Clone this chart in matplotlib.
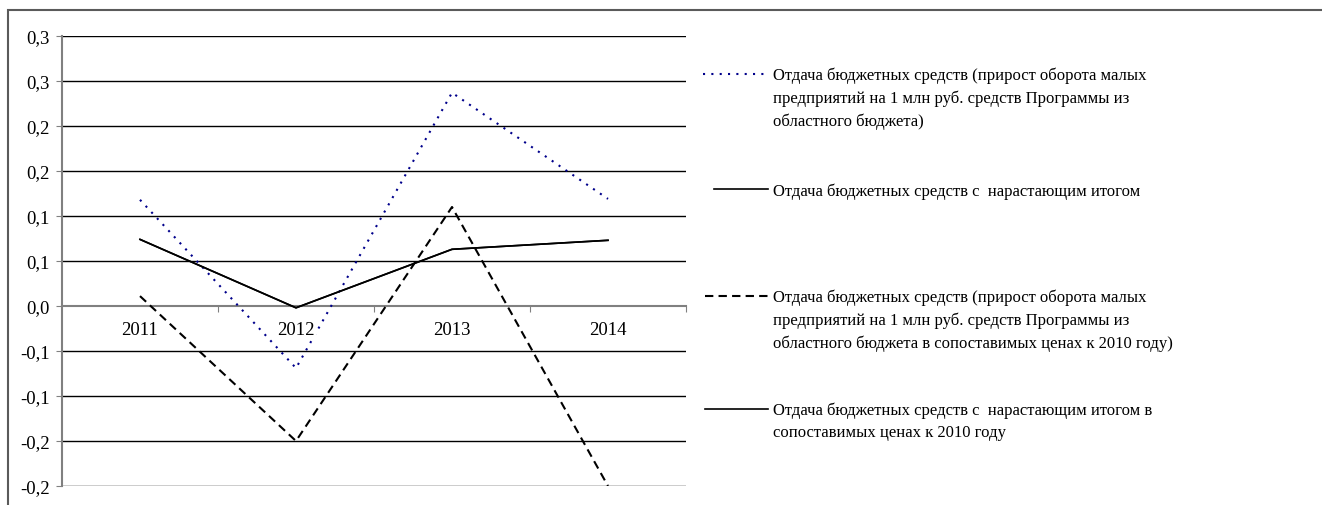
import matplotlib
matplotlib.use("Agg")
import matplotlib.pyplot as plt
from matplotlib.lines import Line2D
from matplotlib.patches import Rectangle

plt.rcParams['font.family'] = ['Liberation Serif', 'DejaVu Serif']

years = ["2011", "2012", "2013", "2014"]
s1_return = [0.118, -0.069, 0.237, 0.119]       # dotted blue
s2_cumulative = [0.074, -0.002, 0.063, 0.073]   # solid
s3_return_real = [0.011, -0.150, 0.110, -0.200] # dashed
s4_cumulative_real = [0.074, -0.002, 0.063, 0.073]  # solid (overlaps)

y_ticks = [0.30, 0.25, 0.20, 0.15, 0.10, 0.05, 0.00, -0.05, -0.10, -0.15, -0.20]
y_tick_labels = ["0,3", "0,3", "0,2", "0,2", "0,1", "0,1", "0,0", "-0,1", "-0,1", "-0,2", "-0,2"]

legend_labels = [
    "Отдача бюджетных средств (прирост оборота малых\nпредприятий на 1 млн руб. средств Программы из\nобластного бюджета)",
    "Отдача бюджетных средств с  нарастающим итогом",
    "Отдача бюджетных средств (прирост оборота малых\nпредприятий на 1 млн руб. средств Программы из\nобластного бюджета в сопоставимых ценах к 2010 году)",
    "Отдача бюджетных средств с  нарастающим итогом в\nсопоставимых ценах к 2010 году",
]

W, H = 1322, 506
FS = 12
AFS = 13.5
fig = plt.figure(figsize=(W / 100, H / 100), dpi=100)
ax = fig.add_axes([62 / W, 1 - 487 / H, (686 - 62) / W, (487 - 37) / H])

x = list(range(len(years)))
styles = [
    dict(color='#00008B', linestyle=(0, (1, 3)), linewidth=1.5),
    dict(color='black', linestyle='-', linewidth=1.2),
    dict(color='black', linestyle=(0, (4, 2.5)), linewidth=1.5),
    dict(color='black', linestyle='-', linewidth=1.2),
]
series = [s1_return, s2_cumulative, s3_return_real, s4_cumulative_real]
for s, st in zip(series, styles):
    ax.plot(x, s, zorder=3, **st)

ax.set_xlim(-0.5, 3.5)
ax.set_ylim(-0.2, 0.3)
ax.set_yticks(y_ticks)
ax.set_yticklabels(y_tick_labels, fontsize=AFS)
for yv in y_ticks:
    if yv != 0:
        ax.axhline(yv, color='black', linewidth=1.0, zorder=1)
ax.tick_params(axis='y', length=4, color='#808080', pad=5)

for sp in ['top', 'right']:
    ax.spines[sp].set_visible(False)
ax.spines['left'].set_color('#808080')
ax.spines['left'].set_linewidth(1.5)
ax.spines['bottom'].set_position(('data', 0))
ax.spines['bottom'].set_color('#808080')
ax.spines['bottom'].set_linewidth(1.5)
ax.set_xticks([0.5, 1.5, 2.5, 3.5])
ax.set_xticklabels([])
ax.tick_params(axis='x', length=4, color='#808080', direction='out')

for i, yr in enumerate(years):
    ax.annotate(yr, xy=(i, 0), xytext=(0, -17), textcoords='offset points',
                ha='center', va='center', fontsize=AFS, zorder=5,
                bbox=dict(boxstyle='square,pad=0.05', fc='white', ec='none'))

# legend
leg_items = [(75, 703), (190, 714), (297, 705), (410, 705)]
for (yp, x0), lab, st in zip(leg_items, legend_labels, styles):
    yf = 1 - yp / H
    fig.add_artist(Line2D([x0 / W, 768 / W], [yf, yf], transform=fig.transFigure, **st))
    fig.text(773 / W, yf + 7 / H, lab, fontsize=FS, va='top', ha='left',
             linespacing=1.5, transform=fig.transFigure)

fig.add_artist(Rectangle((8 / W, -0.1), 1.2, 1 - 11 / H + 0.1, transform=fig.transFigure,
                         fill=False, edgecolor='#5a5a5a', linewidth=1.5))

fig.savefig("out.png", dpi=100)
